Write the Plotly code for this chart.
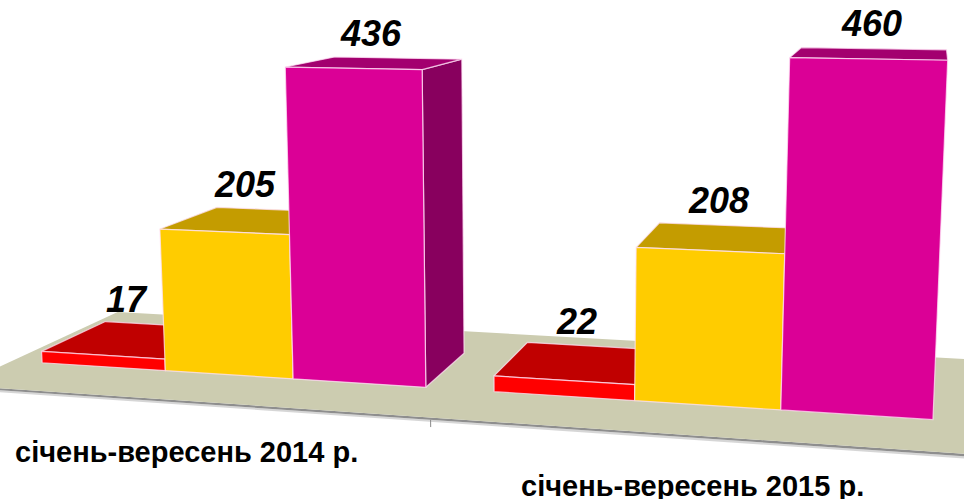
import numpy as np
import plotly.graph_objects as go

# ---------------- data ----------------
categories = ["січень-вересень 2014 р.", "січень-вересень 2015 р."]
values_red = [17, 22]
values_yellow = [205, 208]
values_magenta = [436, 460]

series = [values_red, values_yellow, values_magenta]

# face colours for each series: (front, top, side)
palette = [
    ("#FF0000", "#C00000", "#990000"),
    ("#FFCC00", "#C49C00", "#A07F00"),
    ("#DB0096", "#A3006F", "#88005E"),
]

# ---------------- 3-D layout (world units, one bar width = 1) ----------------
BAR_WIDTH = 1.0
BAR_DEPTH = 1.0
GROUP_GAP = 0.5
HEIGHT_PER_UNIT = 0.00516      # world height per value unit
FLOOR_FRONT = -0.71
FLOOR_BACK = 1.69
FLOOR_THICK = 0.016

# ---------------- perspective camera ----------------
EYE = np.array([6.385, -10.95, 3.165])
YAW_DEG = -13.2
PITCH_DEG = 9.6
FOCAL_PX = 1665.0
PRINCIPAL = (538.0, 216.0)
W, H = 964, 499

a, p = np.radians(YAW_DEG), np.radians(PITCH_DEG)
FWD = np.array([np.cos(p) * np.sin(a), np.cos(p) * np.cos(a), -np.sin(p)])
RIGHT = np.array([np.cos(a), -np.sin(a), 0.0])
DOWN = np.cross(FWD, RIGHT)


def project(points):
    pts = np.atleast_2d(np.asarray(points, dtype=float)) - EYE
    cx, cy, cz = pts @ RIGHT, pts @ DOWN, pts @ FWD
    return PRINCIPAL[0] + FOCAL_PX * cx / cz, PRINCIPAL[1] + FOCAL_PX * cy / cz


fig = go.Figure()


def add_face(pts3d, fill, line_color="rgba(0,0,0,0)", line_width=0):
    u, v = project(pts3d)
    fig.add_trace(go.Scatter(
        x=np.append(u, u[0]), y=np.append(v, v[0]),
        mode="lines", fill="toself", fillcolor=fill,
        line=dict(color=line_color, width=line_width),
        hoverinfo="skip", showlegend=False,
    ))


n_groups = len(categories)
slot = len(series) * BAR_WIDTH + GROUP_GAP
floor_x0 = -GROUP_GAP / 2
floor_x1 = n_groups * slot - GROUP_GAP / 2

# floor slab: soft shadow strip, front edge, top surface
add_face([(floor_x0, FLOOR_FRONT, -FLOOR_THICK), (floor_x1, FLOOR_FRONT, -FLOOR_THICK),
          (floor_x1, FLOOR_FRONT, -FLOOR_THICK - 0.014), (floor_x0, FLOOR_FRONT, -FLOOR_THICK - 0.014)],
         "rgba(120,120,120,0.3)")
add_face([(floor_x0, FLOOR_FRONT, 0), (floor_x1, FLOOR_FRONT, 0),
          (floor_x1, FLOOR_FRONT, -FLOOR_THICK), (floor_x0, FLOOR_FRONT, -FLOOR_THICK)],
         "#8E8E8E")
add_face([(floor_x0, FLOOR_FRONT, 0), (floor_x1, FLOOR_FRONT, 0),
          (floor_x1, FLOOR_BACK, 0), (floor_x0, FLOOR_BACK, 0)],
         "#CCCCB0")

# category divider ticks below the floor's front edge
for k in range(n_groups + 1):
    xt = floor_x0 + k * slot
    u, v = project([(xt, FLOOR_FRONT, -FLOOR_THICK), (xt, FLOOR_FRONT, -FLOOR_THICK - 0.05)])
    fig.add_trace(go.Scatter(x=u, y=v, mode="lines", line=dict(color="#8A8A8A", width=1),
                             hoverinfo="skip", showlegend=False))

# collect bars, then paint from farthest to nearest
bars = []
for g in range(n_groups):
    for s, vals in enumerate(series):
        x0 = g * slot + s * BAR_WIDTH
        bars.append((x0, x0 + BAR_WIDTH, vals[g], s))


def centre_dist(b):
    c = np.array([(b[0] + b[1]) / 2, BAR_DEPTH / 2, 0.0])
    return np.linalg.norm(c - EYE)


bars.sort(key=centre_dist, reverse=True)

EDGE = "rgba(255,225,245,0.75)"
annotations = []
for x0, x1, val, s in bars:
    h = val * HEIGHT_PER_UNIT
    y0, y1 = 0.0, BAR_DEPTH
    front, top, side = palette[s]
    faces = [
        ((1, 0, 0), [(x1, y0, 0), (x1, y1, 0), (x1, y1, h), (x1, y0, h)], side),
        ((-1, 0, 0), [(x0, y0, 0), (x0, y1, 0), (x0, y1, h), (x0, y0, h)], side),
        ((0, 0, 1), [(x0, y0, h), (x1, y0, h), (x1, y1, h), (x0, y1, h)], top),
        ((0, -1, 0), [(x0, y0, 0), (x1, y0, 0), (x1, y0, h), (x0, y0, h)], front),
    ]
    for normal, pts, col in faces:
        if np.dot(normal, EYE - np.array(pts[0])) > 0:
            add_face(pts, col, EDGE, 1.2)

    xc = (x0 + x1) / 2
    ux, _ = project([(xc, 0.35, h)])
    _, vy = project([(xc, BAR_DEPTH, h)])
    annotations.append(dict(
        x=float(ux[0]) + 2, y=float(vy[0]) - 25, xref="x", yref="y",
        text=f"{val}", showarrow=False, xanchor="center", yanchor="middle",
        font=dict(family="Liberation Sans, Arial, sans-serif", size=36, color="#000000",
                  weight="bold", style="italic"),
    ))

# category labels under the floor
for g, name in enumerate(categories):
    xc = g * slot + len(series) * BAR_WIDTH / 2
    u, v = project([(xc, FLOOR_FRONT, 0)])
    annotations.append(dict(
        x=float(u[0]), y=float(v[0]) + 51, xref="x", yref="y",
        text=name, showarrow=False, xanchor="center", yanchor="middle",
        font=dict(family="Liberation Sans, Arial, sans-serif", size=29, color="#000000",
                  weight="bold"),
    ))

fig.update_layout(
    width=W, height=H,
    margin=dict(l=0, r=0, t=0, b=0),
    paper_bgcolor="white", plot_bgcolor="white",
    xaxis=dict(range=[0, W], visible=False, fixedrange=True),
    yaxis=dict(range=[H, 0], visible=False, fixedrange=True),
    annotations=annotations,
    showlegend=False,
)

fig.write_html("out.html")
